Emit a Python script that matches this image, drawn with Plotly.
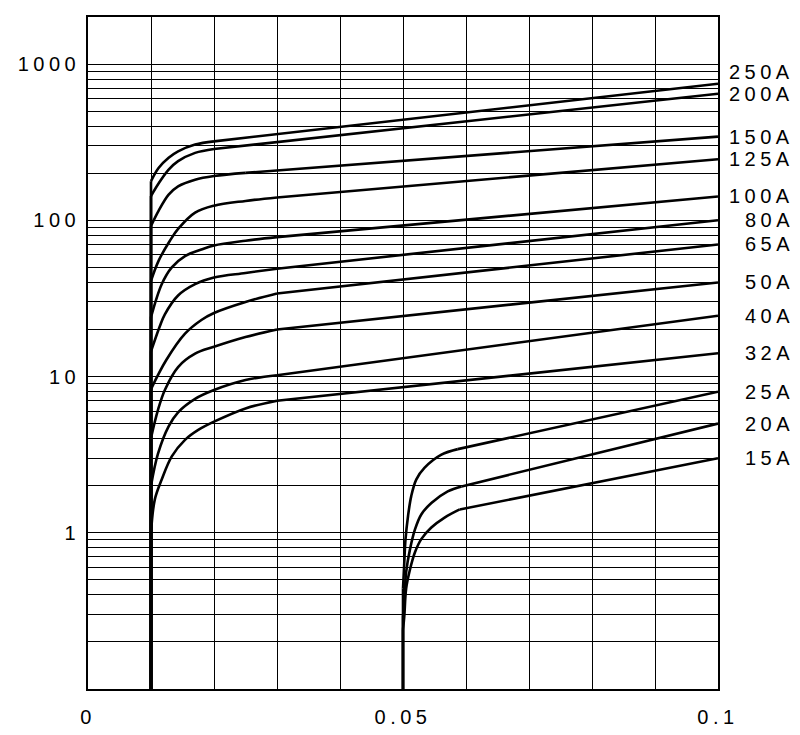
import math
import plotly.graph_objects as go

# ---------------- data ----------------
ratings = ["250A", "200A", "150A", "125A", "100A", "80A", "65A",
           "50A", "40A", "32A", "25A", "20A", "15A"]

# rising part of each characteristic (x: s, y: log axis value);
# the first two points are the vertical foot on the 0.01 / 0.05 line
x_250 = [0.01, 0.01, 0.0112, 0.0128, 0.0143, 0.017, 0.02]
y_250 = [0.1, 178, 216, 251, 276, 305, 320]
x_200 = [0.01, 0.01, 0.0112, 0.0128, 0.0143, 0.017, 0.02]
y_200 = [0.1, 143, 172, 211, 239, 270, 286]
x_150 = [0.01, 0.01, 0.0112, 0.0128, 0.0143, 0.017, 0.02, 0.025]
y_150 = [0.1, 92, 115, 146, 165, 182, 192, 201]
x_125 = [0.01, 0.01, 0.0112, 0.013, 0.0143, 0.017, 0.02, 0.025, 0.03]
y_125 = [0.1, 41, 55, 74, 88, 112, 124, 133, 140]
x_100 = [0.01, 0.01, 0.0117, 0.0133, 0.0154, 0.018, 0.02, 0.025, 0.03]
y_100 = [0.1, 24, 39, 50, 59, 65, 69, 74, 78]
x_80 = [0.01, 0.01, 0.0114, 0.0122, 0.0143, 0.017, 0.02, 0.025, 0.03]
y_80 = [0.1, 14.5, 21, 25, 33, 39, 43, 46, 49]
x_65 = [0.01, 0.01, 0.0124, 0.0154, 0.018, 0.02, 0.025, 0.03]
y_65 = [0.1, 8.3, 12.7, 18.8, 23, 25.5, 30, 34]
x_50 = [0.01, 0.01, 0.0111, 0.0122, 0.0143, 0.017, 0.02, 0.025, 0.03]
y_50 = [0.1, 4.05, 6.1, 8.2, 11.5, 14.0, 15.5, 17.9, 20]
x_40 = [0.01, 0.01, 0.0111, 0.0128, 0.0143, 0.017, 0.02, 0.025, 0.03]
y_40 = [0.1, 2.0, 3.2, 4.8, 5.9, 7.2, 8.2, 9.5, 10.2]
x_32 = [0.01, 0.01, 0.0106, 0.0117, 0.0133, 0.0154, 0.0175, 0.02, 0.025, 0.03]
y_32 = [0.1, 1.0, 1.63, 2.19, 3.08, 3.93, 4.55, 5.14, 6.25, 7.0]
x_25 = [0.05, 0.05, 0.0502, 0.0504, 0.0508, 0.0513, 0.0521, 0.0534, 0.0561, 0.0587]
y_25 = [0.1, 0.44, 0.64, 0.91, 1.28, 1.71, 2.19, 2.6, 3.16, 3.43]
x_20 = [0.05, 0.05, 0.0502, 0.0505, 0.0511, 0.0519, 0.0529, 0.0545, 0.0571, 0.0593]
y_20 = [0.1, 0.29, 0.36, 0.56, 0.78, 1.05, 1.31, 1.55, 1.84, 1.98]
x_15 = [0.05, 0.05, 0.0502, 0.0505, 0.0511, 0.0519, 0.0529, 0.0545, 0.0566, 0.059]
y_15 = [0.1, 0.24, 0.29, 0.44, 0.58, 0.75, 0.91, 1.08, 1.25, 1.41]

# value of each characteristic at the right edge (x = 0.1)
x_end = 0.1
y_end = [748, 646, 343, 246, 142, 100, 70, 40, 24.5, 14.1, 8.0, 5.0, 3.0]

# axis ticks / labels
x_tickvals = [0, 0.01, 0.02, 0.03, 0.04, 0.05, 0.06, 0.07, 0.08, 0.09, 0.1]
x_ticktext = ["0", "", "", "", "", "0.05", "", "", "", "", "0.1"]
y_labels = {1: "1", 10: "10", 100: "100", 1000: "1000"}

curves_x = [x_250, x_200, x_150, x_125, x_100, x_80, x_65, x_50, x_40, x_32, x_25, x_20, x_15]
curves_y = [y_250, y_200, y_150, y_125, y_100, y_80, y_65, y_50, y_40, y_32, y_25, y_20, y_15]

# ---------------- style ----------------
FONT = "Liberation Sans"
FSIZE = 20
LS = "letter-spacing:4.5px"
LW = 2.6
label_shift = {"250A": 12}


def spaced(t):
    return f'<span style="{LS}">{t}</span>' if t else ""


fig = go.Figure()
for name, xs, ys, ye in zip(ratings, curves_x, curves_y, y_end):
    # vertical foot
    fig.add_trace(go.Scatter(x=xs[:2], y=ys[:2], mode="lines",
                             line=dict(color="black", width=LW),
                             showlegend=False, hoverinfo="skip"))
    # rising bend
    fig.add_trace(go.Scatter(x=xs[1:], y=ys[1:], mode="lines",
                             line=dict(color="black", width=LW, shape="spline", smoothing=1),
                             showlegend=False, hoverinfo="skip"))
    # straight part up to x = 0.1
    fig.add_trace(go.Scatter(x=[xs[-1], x_end], y=[ys[-1], ye], mode="lines",
                             line=dict(color="black", width=LW),
                             showlegend=False, name=name))
    fig.add_annotation(x=1, xref="paper", xanchor="right", xshift=78,
                       y=math.log10(ye), yref="y", yanchor="middle",
                       yshift=label_shift.get(name, 0),
                       text=spaced(name), showarrow=False,
                       font=dict(family=FONT, size=FSIZE, color="black"))

y_tickvals = [m * 10 ** e for e in (-1, 0, 1, 2) for m in range(1, 10)] + [1000]
y_ticktext = [spaced(y_labels[round(v, 6)]) if round(v, 6) in y_labels else "" for v in y_tickvals]

axis_common = dict(showgrid=True, gridcolor="black", gridwidth=1.4,
                   showline=True, linecolor="black", linewidth=1.6, mirror=True,
                   zeroline=False, ticks="",
                   tickfont=dict(family=FONT, size=FSIZE, color="black"))
fig.update_xaxes(range=[0, 0.1], tickvals=x_tickvals,
                 ticktext=[spaced(t) for t in x_ticktext],
                 ticklabelstandoff=9, **axis_common)
fig.update_yaxes(type="log", range=[-1, math.log10(2000)], tickvals=y_tickvals,
                 ticktext=y_ticktext, ticklabelstandoff=2, **axis_common)
# page body adds an 8 px offset; size the figure so the plot area lands as in the reference
fig.update_layout(width=792, height=727, plot_bgcolor="white", paper_bgcolor="white",
                  margin=dict(l=80, r=82, t=7, b=44), showlegend=False)
fig.write_html("out.html")
